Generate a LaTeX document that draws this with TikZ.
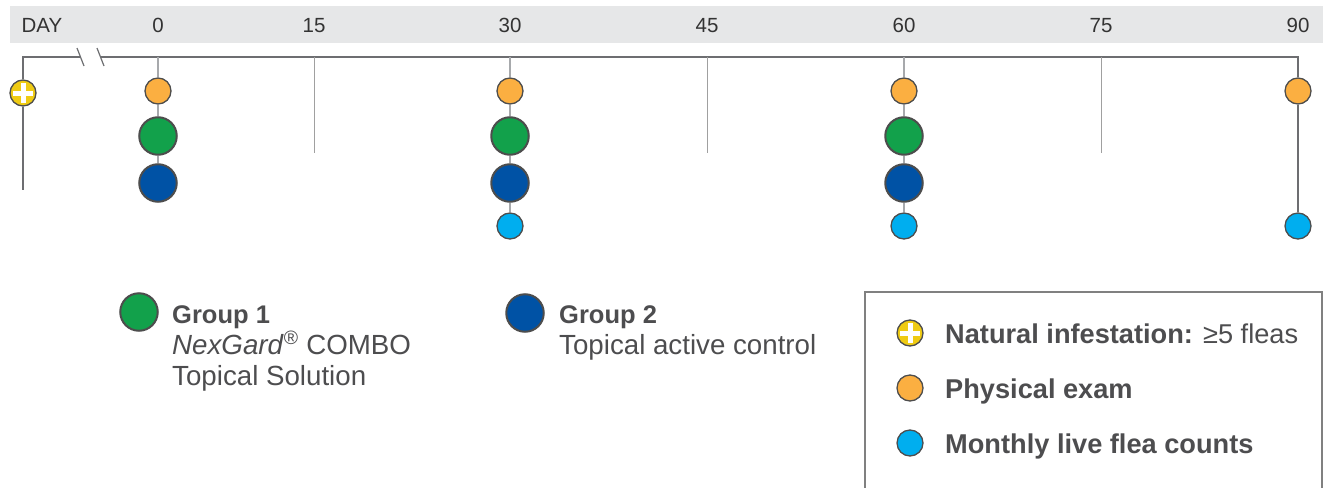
\documentclass[tikz,border=0pt]{standalone}
\usepackage{fontspec}
\setmainfont{Liberation Sans}
\definecolor{band}{HTML}{E6E7E8}
\definecolor{daytxt}{HTML}{333333}
\definecolor{txt}{HTML}{4D4D4F}
\definecolor{outl}{HTML}{4D4D4D}
\definecolor{axisc}{HTML}{6D6E71}
\definecolor{stem}{HTML}{A7A9AC}
\definecolor{tickc}{HTML}{A0A0A0}
\definecolor{orng}{HTML}{FBAF41}
\definecolor{grn}{HTML}{12A14B}
\definecolor{dblue}{HTML}{0052A5}
\definecolor{lblue}{HTML}{00AEEF}
\definecolor{yel}{HTML}{EFCB13}
\definecolor{boxc}{HTML}{808080}
\tikzset{
  dot/.style={circle, draw=outl, line width=1.3pt, inner sep=0pt, minimum size=26pt},
  bigdot/.style={circle, draw=outl, line width=2pt, inner sep=0pt, minimum size=37.5pt},
  exam/.style={dot, fill=orng},
  flea/.style={dot, fill=lblue},
  grpone/.style={bigdot, fill=grn},
  grptwo/.style={bigdot, fill=dblue},
  plusdot/.style={dot, fill=yel, path picture={
      \draw[white, line width=5pt] ([xshift=-10pt]path picture bounding box.center) -- ([xshift=10pt]path picture bounding box.center);
      \draw[white, line width=5pt] ([yshift=-10pt]path picture bounding box.center) -- ([yshift=10pt]path picture bounding box.center);}},
  daylbl/.style={font=\fontsize{20.5}{24}\selectfont, text=daytxt, anchor=base, inner sep=0pt},
  grpb/.style={font=\fontsize{25.5}{30}\selectfont\bfseries, text=txt, anchor=base west, inner sep=0pt},
  grpr/.style={font=\fontsize{27.7}{32}\selectfont, text=txt, anchor=base west, inner sep=0pt},
  legt/.style={font=\fontsize{27.2}{30}\selectfont, text=txt, anchor=base west, inner sep=0pt},
  stemline/.style={draw=stem, line width=1.5pt},
  darkline/.style={draw=axisc, line width=1.5pt},
  tickline/.style={draw=tickc, line width=1pt},
}
\begin{document}
\begin{tikzpicture}[x=1pt, y=-1pt]
\useasboundingbox (0,0) rectangle (1327,487);
% band
\fill[band] (10,6) rectangle (1323,43);
\node[daylbl] (dayl) at (42,33) {DAY};
\node[daylbl] (l0) at (158,33) {0};
\node[daylbl] (l15) at (314,33) {15};
\node[daylbl] (l30) at (510,33) {30};
\node[daylbl] (l45) at (707,33) {45};
\node[daylbl] (l60) at (904,33) {60};
\node[daylbl] (l75) at (1101,33) {75};
\node[daylbl] (l90) at (1298,33) {90};
% axis coordinates
\coordinate (corner) at (23,57);
\coordinate (brkL) at (80.5,57);
\coordinate (brkR) at (100.5,57);
\coordinate (leftend) at (23,190);
\coordinate (a0) at (158,57);
\coordinate (a15) at (314,57);
\coordinate (a30) at (510,57);
\coordinate (a45) at (707,57);
\coordinate (a60) at (904,57);
\coordinate (a75) at (1101,57);
\coordinate (a90) at (1298,57);
\coordinate (e15) at (314,153);
\coordinate (e45) at (707,153);
\coordinate (e75) at (1101,153);
\coordinate (s1a) at (77,48); \coordinate (s1b) at (84,66);
\coordinate (s2a) at (97,48); \coordinate (s2b) at (104,66);
% nodes
\node[plusdot] (inf) at (23,93) {};
\node[exam] (o0) at (158,91) {};
\node[grpone] (g0) at (158,136) {};
\node[grptwo] (b0) at (158,183) {};
\node[exam] (o30) at (510,91) {};
\node[grpone] (g30) at (510,136) {};
\node[grptwo] (b30) at (510,183) {};
\node[flea] (f30) at (510,226) {};
\node[exam] (o60) at (904,91) {};
\node[grpone] (g60) at (904,136) {};
\node[grptwo] (b60) at (904,183) {};
\node[flea] (f60) at (904,226) {};
\node[exam] (o90) at (1298,91) {};
\node[flea] (f90) at (1298,226) {};
% axis and lines
\draw[darkline] (inf) -- (corner) -- (brkL);
\draw[darkline] (inf) -- (leftend);
\draw[darkline] (brkR) -- (a90) -- (o90);
\draw[darkline] (o90) -- (f90);
\draw[draw=axisc, line width=1.2pt] (s1a) -- (s1b);
\draw[draw=axisc, line width=1.2pt] (s2a) -- (s2b);
\draw[tickline] (a15) -- (e15);
\draw[tickline] (a45) -- (e45);
\draw[tickline] (a75) -- (e75);
\draw[stemline] (a0) -- (o0) -- (g0) -- (b0);
\draw[stemline] (a30) -- (o30) -- (g30) -- (b30) -- (f30);
\draw[stemline] (a60) -- (o60) -- (g60) -- (b60) -- (f60);
% group legend
\node[grpone] (k1) at (139,312) {};
\node[grpb] (k1t) at (172,323) {Group 1};
\node[grpr] (k1a) at (172,354) {\textit{NexGard}\textsuperscript{®} COMBO};
\node[grpr] (k1b) at (172,385) {Topical Solution};
\node[grptwo] (k2) at (525,313) {};
\node[grpb] (k2t) at (559,323) {Group 2};
\node[grpr] (k2a) at (559,354) {Topical active control};
% legend box
\coordinate (bx1) at (865,487.5);
\coordinate (bx2) at (865,292);
\coordinate (bx3) at (1322,292);
\coordinate (bx4) at (1322,487.5);
\draw[draw=boxc, line width=1.2pt] (bx1) -- (bx2) -- (bx3) -- (bx4);
\node[plusdot] (li) at (910,333) {};
\node[exam] (le) at (910,388) {};
\node[flea] (lf) at (910,443) {};
\node[legt] (lit) at (945,343) {\textbf{Natural infestation:} ≥5 fleas};
\node[legt] (let) at (945,398) {\textbf{Physical exam}};
\node[legt] (lft) at (945,453) {\textbf{Monthly live flea counts}};
\end{tikzpicture}
\end{document}
